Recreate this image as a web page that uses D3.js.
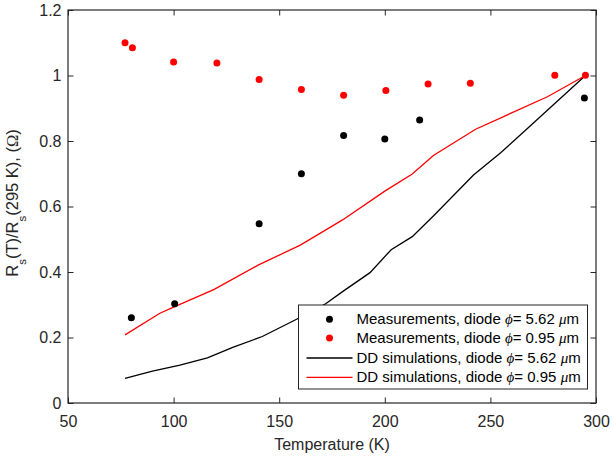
<!DOCTYPE html>
<html>
<head>
<meta charset="utf-8">
<script src="https://cdn.jsdelivr.net/npm/d3@7"></script>
<style>
  html, body { margin: 0; padding: 0; background: #fff; }
  svg { display: block; font-family: "Liberation Sans", Arial, sans-serif; }
</style>
</head>
<body>
<div id="chart"></div>
<script>
/* Rs(T)/Rs(295 K) vs temperature: measurements and DD simulations */

var xTicks = [50, 100, 150, 200, 250, 300];
var yTicks = [0, 0.2, 0.4, 0.6, 0.8, 1, 1.2];

// measurements, diode phi = 5.62 um (black dots)
var measBigT = [80, 100.5, 140.5, 160.5, 180.5, 200, 216.5, 294.5];
var measBigV = [0.260, 0.303, 0.547, 0.700, 0.817, 0.806, 0.864, 0.931];

// measurements, diode phi = 0.95 um (red dots)
var measSmallT = [77, 80.5, 100, 120.5, 140.5, 160.5, 180.5, 200.5, 220.5, 240.5, 280.5, 295];
var measSmallV = [1.100, 1.085, 1.041, 1.038, 0.988, 0.957, 0.940, 0.954, 0.974, 0.976, 1.001, 1.001];

// DD simulations, phi = 5.62 um (black line)
var simBigT = [77, 90, 103, 116, 128, 142, 158, 172, 180, 193, 203, 213, 223, 242, 255, 267, 295];
var simBigV = [0.075, 0.097, 0.116, 0.138, 0.170, 0.203, 0.255, 0.303, 0.340, 0.398, 0.468, 0.508, 0.571, 0.696, 0.765, 0.835, 1.0];

// DD simulations, phi = 0.95 um (red line)
var simSmallT = [77, 93.5, 100, 119, 140, 160, 180, 200, 213, 223, 243, 277, 295];
var simSmallV = [0.208, 0.274, 0.293, 0.346, 0.421, 0.482, 0.559, 0.647, 0.699, 0.756, 0.836, 0.935, 1.0];

var legendLabels = [
  ["Measurements, diode ", "5.62"],
  ["Measurements, diode ", "0.95"],
  ["DD simulations, diode ", "5.62"],
  ["DD simulations, diode ", "0.95"]
];

(function () {
  "use strict";

  var W = 613, H = 458;
  var m = { l: 68, t: 10, r: 17, b: 55 };
  var iw = W - m.l - m.r, ih = H - m.t - m.b;
  var ink = "#262626";

  var svg = d3.select("#chart").append("svg").attr("width", W).attr("height", H);
  var g = svg.append("g").attr("transform", "translate(" + m.l + "," + m.t + ")");

  var x = d3.scaleLinear().domain([50, 300]).range([0, iw]);
  var y = d3.scaleLinear().domain([0, 1.2]).range([ih, 0]);

  function zip(a, b) { return a.map(function (d, i) { return [d, b[i]]; }); }

  // lines
  var line = d3.line().x(function (d) { return x(d[0]); }).y(function (d) { return y(d[1]); });
  g.append("path").datum(zip(simBigT, simBigV))
    .attr("fill", "none").attr("stroke", "#000").attr("stroke-width", 1.3).attr("d", line);
  g.append("path").datum(zip(simSmallT, simSmallV))
    .attr("fill", "none").attr("stroke", "#ff0000").attr("stroke-width", 1.3).attr("d", line);

  // dots
  g.selectAll(".mb").data(zip(measBigT, measBigV)).enter().append("circle")
    .attr("cx", function (d) { return x(d[0]); }).attr("cy", function (d) { return y(d[1]); })
    .attr("r", 3.5).attr("fill", "#000");
  g.selectAll(".ms").data(zip(measSmallT, measSmallV)).enter().append("circle")
    .attr("cx", function (d) { return x(d[0]); }).attr("cy", function (d) { return y(d[1]); })
    .attr("r", 3.5).attr("fill", "#ff0000");

  // axes (ticks inward, box on)
  function styleAxis(sel) {
    sel.select(".domain").remove();
    sel.selectAll("line").attr("stroke", ink).attr("stroke-width", 1);
    sel.selectAll("text").attr("fill", ink).style("font-size", "16px")
      .style("font-family", "'Liberation Sans', Arial, sans-serif");
  }
  var gx = g.append("g").attr("transform", "translate(0," + ih + ")")
    .call(d3.axisBottom(x).tickValues(xTicks).tickSizeInner(-5.5).tickSizeOuter(0).tickPadding(13));
  styleAxis(gx);
  var gxt = g.append("g")
    .call(d3.axisTop(x).tickValues(xTicks).tickSizeInner(-5.5).tickSizeOuter(0).tickFormat(""));
  styleAxis(gxt);
  var gy = g.append("g")
    .call(d3.axisLeft(y).tickValues(yTicks).tickSizeInner(-5.5).tickSizeOuter(0).tickPadding(6.5)
      .tickFormat(function (d) { return d3.format("~g")(d); }));
  styleAxis(gy);
  var gyr = g.append("g").attr("transform", "translate(" + iw + ",0)")
    .call(d3.axisRight(y).tickValues(yTicks).tickSizeInner(-5.5).tickSizeOuter(0).tickFormat(""));
  styleAxis(gyr);

  g.append("rect").attr("width", iw).attr("height", ih)
    .attr("fill", "none").attr("stroke", ink).attr("stroke-width", 1.2);

  // axis labels
  svg.append("text").attr("x", m.l + iw / 2).attr("y", 449.5)
    .attr("text-anchor", "middle").attr("fill", ink).style("font-size", "16px")
    .text("Temperature (K)");

  var yl = svg.append("text")
    .attr("transform", "translate(18.3,203) rotate(-90)")
    .attr("text-anchor", "middle").attr("fill", ink).style("font-size", "16.5px");
  yl.append("tspan").text("R");
  yl.append("tspan").attr("dy", 8).style("font-size", "11.5px").text("s");
  yl.append("tspan").attr("dy", -8).text("(T)/R");
  yl.append("tspan").attr("dy", 8).style("font-size", "11.5px").text("s");
  yl.append("tspan").attr("dy", -8).text("(295 K), (");
  yl.append("tspan").style("font-family", "'Liberation Serif', serif").text("\u03A9");
  yl.append("tspan").text(")");

  // legend
  var lg = svg.append("g").attr("transform", "translate(298.5,305)");
  lg.append("rect").attr("width", 289).attr("height", 84)
    .attr("fill", "#fff").attr("stroke", ink).attr("stroke-width", 1);
  var rowY = [14.3, 33, 53, 72.3];
  var kinds = [
    { dot: "#000" }, { dot: "#ff0000" }, { line: "#000" }, { line: "#ff0000" }
  ];
  legendLabels.forEach(function (lab, i) {
    var k = kinds[i];
    if (k.dot) {
      lg.append("circle").attr("cx", 31).attr("cy", rowY[i]).attr("r", 3.5).attr("fill", k.dot);
    } else {
      lg.append("line").attr("x1", 8).attr("x2", 54).attr("y1", rowY[i]).attr("y2", rowY[i])
        .attr("stroke", k.line).attr("stroke-width", 1.3);
    }
    var t = lg.append("text").attr("x", 58).attr("y", rowY[i] + 5)
      .attr("fill", "#000").style("font-size", "15px");
    t.append("tspan").text(lab[0]);
    t.append("tspan").style("font-family", "'Liberation Serif', serif").style("font-style", "italic").text("\u03D5");
    t.append("tspan").text("= " + lab[1] + " ");
    t.append("tspan").style("font-family", "'Liberation Serif', serif").style("font-style", "italic").text("\u03BC");
    t.append("tspan").text("m");
  });
})();
</script>
</body>
</html>
